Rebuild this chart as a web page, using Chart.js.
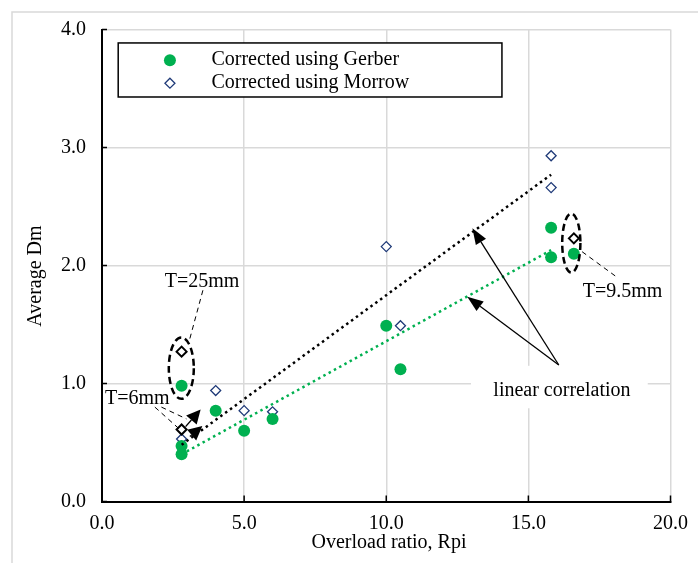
<!DOCTYPE html>
<html>
<head>
<meta charset="utf-8">
<script src="https://cdn.jsdelivr.net/npm/chart.js@4.4.1/dist/chart.umd.min.js"></script>
<style>
  html, body { margin: 0; padding: 0; background: #fff; }
  #myChart { display: block; }
</style>
</head>
<body>
<canvas id="myChart" width="698" height="563"></canvas>
<script>
// values
const gerberX = [2.8, 2.8, 2.8, 4.0, 5.0, 6.0, 10.0, 10.5, 15.8, 15.8, 16.6];
const gerberY = [0.40, 0.47, 0.98, 0.77, 0.60, 0.70, 1.49, 1.12, 2.32, 2.07, 2.10];
const morrowX = [2.8, 2.8, 2.8, 4.0, 5.0, 6.0, 10.0, 10.5, 15.8, 15.8, 16.6];
const morrowY = [0.53, 0.61, 1.27, 0.94, 0.77, 0.76, 2.16, 1.49, 2.93, 2.66, 2.23];
// Morrow points that are circled / pointed at (drawn in black)
const markedMorrow = [1, 2, 10];

// linear trend lines (end points)
const gerberFitX = [2.8, 15.8];
const gerberFitY = [0.40, 2.13];
const morrowFitX = [2.8, 15.8];
const morrowFitY = [0.48, 2.77];

const xTicks = [0, 5, 10, 15, 20];
const yTicks = [0, 1, 2, 3, 4];

const seriesNames = ['Corrected using Gerber', 'Corrected using Morrow'];
const xTitle = 'Overload ratio, Rpi';
const yTitle = 'Average Dm';

const GREEN = '#00b050';
const NAVY = '#1f3a78';
const FONT = '"Liberation Serif", "Times New Roman", serif';

Chart.defaults.font.family = FONT;

function toPoints(xs, ys) {
  return xs.map((x, i) => ({ x: x, y: ys[i] }));
}

function arrow(ctx, x1, y1, x2, y2, len, half) {
  const a = Math.atan2(y2 - y1, x2 - x1);
  const bx = x2 - len * Math.cos(a), by = y2 - len * Math.sin(a);
  ctx.beginPath();
  ctx.moveTo(x1, y1);
  ctx.lineTo(bx, by);
  ctx.stroke();
  ctx.beginPath();
  ctx.moveTo(x2, y2);
  ctx.lineTo(bx + half * Math.sin(a), by - half * Math.cos(a));
  ctx.lineTo(bx - half * Math.sin(a), by + half * Math.cos(a));
  ctx.closePath();
  ctx.fill();
}

// annotations, positioned in data units
const annot = {
  id: 'annot',
  beforeDatasetsDraw(chart) {
    const ctx = chart.ctx, sx = chart.scales.x, sy = chart.scales.y;
    const X = v => sx.getPixelForValue(v), Y = v => sy.getPixelForValue(v);
    ctx.save();
    // white box behind "linear correlation"
    ctx.fillStyle = '#fff';
    ctx.fillRect(X(12.98), Y(1.15), X(19.2) - X(12.98), Y(0.79) - Y(1.15));
    ctx.restore();
  },
  afterDatasetsDraw(chart) {
    const ctx = chart.ctx, sx = chart.scales.x, sy = chart.scales.y;
    const X = v => sx.getPixelForValue(v), Y = v => sy.getPixelForValue(v);
    const area = chart.chartArea;
    ctx.save();

    // outer light frame
    ctx.strokeStyle = '#d9d9d9';
    ctx.lineWidth = 1.5;
    ctx.beginPath();
    ctx.moveTo(12, 563);
    ctx.lineTo(12, 12);
    ctx.lineTo(698, 12);
    ctx.stroke();

    // inside tick marks
    ctx.strokeStyle = '#000';
    ctx.lineWidth = 1.5;
    ctx.beginPath();
    yTicks.forEach(v => { ctx.moveTo(area.left, Y(v)); ctx.lineTo(area.left + 5, Y(v)); });
    xTicks.forEach(v => { ctx.moveTo(X(v), area.bottom); ctx.lineTo(X(v), area.bottom - 6); });
    ctx.stroke();

    // legend
    ctx.fillStyle = '#fff';
    ctx.strokeStyle = '#000';
    ctx.lineWidth = 1.5;
    const lx = X(0.57), ly = Y(3.886), lw = X(14.07) - X(0.57), lh = Y(3.428) - Y(3.886);
    ctx.fillRect(lx, ly, lw, lh);
    ctx.strokeRect(lx, ly, lw, lh);
    ctx.fillStyle = GREEN;
    ctx.beginPath();
    ctx.arc(X(2.39), Y(3.74), 6, 0, Math.PI * 2);
    ctx.fill();
    ctx.strokeStyle = NAVY;
    ctx.lineWidth = 1.3;
    const dx = X(2.39), dy = Y(3.545);
    ctx.beginPath();
    ctx.moveTo(dx, dy - 5); ctx.lineTo(dx + 5, dy); ctx.lineTo(dx, dy + 5); ctx.lineTo(dx - 5, dy); ctx.closePath();
    ctx.stroke();
    ctx.fillStyle = '#000';
    ctx.font = '20px ' + FONT;
    ctx.textBaseline = 'middle';
    ctx.textAlign = 'left';
    ctx.fillText(seriesNames[0], X(3.85), Y(3.74));
    ctx.fillText(seriesNames[1], X(3.85), Y(3.545));

    // axis titles
    ctx.textAlign = 'center';
    ctx.textBaseline = 'alphabetic';
    ctx.fillText(xTitle, 389, 548);
    ctx.save();
    ctx.translate(41, 276);
    ctx.rotate(-Math.PI / 2);
    ctx.fillText(yTitle, 0, 0);
    ctx.restore();

    // labels
    ctx.textAlign = 'left';
    ctx.fillText('T=25mm', X(2.21), Y(1.82));
    ctx.fillText('T=6mm', X(0.105), Y(0.825));
    ctx.fillText('T=9.5mm', X(16.91), Y(1.736));
    ctx.textAlign = 'center';
    ctx.fillText('linear correlation', X(16.18), Y(0.897));

    // dashed ellipses
    ctx.strokeStyle = '#000';
    ctx.lineWidth = 2.5;
    ctx.setLineDash([7, 4]);
    ctx.beginPath();
    ctx.ellipse(X(2.79), Y(1.13), X(0.44) - X(0), Y(0) - Y(0.26), 0, 0, Math.PI * 2);
    ctx.stroke();
    ctx.beginPath();
    ctx.ellipse(X(16.51), Y(2.19), X(0.32) - X(0), Y(0) - Y(0.25), 0, 0, Math.PI * 2);
    ctx.stroke();

    // dashed leaders
    ctx.lineWidth = 1;
    ctx.setLineDash([5, 4]);
    ctx.beginPath();
    ctx.moveTo(X(3.55), Y(1.79)); ctx.lineTo(X(3.09), Y(1.38));
    ctx.moveTo(X(16.89), Y(2.117)); ctx.lineTo(X(18.12), Y(1.90));
    ctx.moveTo(X(1.86), Y(0.80)); ctx.lineTo(X(2.74), Y(0.61));
    ctx.moveTo(X(2.09), Y(0.80)); ctx.lineTo(X(2.97), Y(0.70));
    ctx.stroke();
    ctx.setLineDash([]);

    // arrows
    ctx.fillStyle = '#000';
    ctx.lineWidth = 1.3;
    arrow(ctx, X(16.07), Y(1.157), X(13.03), Y(2.315), 16, 6);
    arrow(ctx, X(16.07), Y(1.157), X(12.85), Y(1.736), 16, 6);
    arrow(ctx, X(2.94), Y(0.634), X(3.47), Y(0.78), 14, 7);
    arrow(ctx, X(3.09), Y(0.55), X(3.53), Y(0.64), 14, 7);

    ctx.restore();
  }
};

const ctx = document.getElementById('myChart').getContext('2d');
const myChart = new Chart(ctx, {
  type: 'scatter',
  data: {
    datasets: [
      {
        label: 'Gerber linear',
        data: toPoints(gerberFitX, gerberFitY),
        showLine: true,
        pointRadius: 0,
        borderColor: GREEN,
        borderWidth: 2.5,
        borderDash: [2.5, 3.5],
        order: 0
      },
      {
        label: 'Morrow linear',
        data: toPoints(morrowFitX, morrowFitY),
        showLine: true,
        pointRadius: 0,
        borderColor: '#000',
        borderWidth: 2.5,
        borderDash: [2.5, 3.5],
        order: 0
      },
      {
        label: seriesNames[0],
        data: toPoints(gerberX, gerberY),
        pointStyle: 'circle',
        pointRadius: 6,
        backgroundColor: GREEN,
        borderColor: GREEN,
        borderWidth: 0,
        order: 1
      },
      {
        label: seriesNames[1],
        data: toPoints(morrowX, morrowY),
        pointStyle: 'rectRot',
        pointRadius: 5,
        backgroundColor: '#fff',
        borderColor: c => markedMorrow.includes(c.dataIndex) ? '#000' : NAVY,
        borderWidth: c => markedMorrow.includes(c.dataIndex) ? 2 : 1.3,
        order: 2
      }
    ]
  },
  options: {
    responsive: false,
    animation: false,
    devicePixelRatio: 1,
    layout: { padding: { top: 29.5, right: 26, left: 0, bottom: 0 } },
    plugins: { legend: { display: false }, tooltip: { enabled: false } },
    scales: {
      x: {
        type: 'linear',
        min: 0,
        max: 20,
        afterBuildTicks: s => { s.ticks = xTicks.map(v => ({ value: v })); },
        afterFit: s => { s.height = 61.5; },
        grid: { color: '#d9d9d9', lineWidth: 1.5, drawTicks: false },
        border: { color: '#000', width: 2 },
        ticks: { padding: 10, color: '#000', font: { size: 20 }, callback: v => v.toFixed(1) }
      },
      y: {
        type: 'linear',
        min: 0,
        max: 4,
        afterBuildTicks: s => { s.ticks = yTicks.map(v => ({ value: v })); },
        afterFit: s => { s.width = 102; },
        grid: { color: '#d9d9d9', lineWidth: 1.5, drawTicks: false },
        border: { color: '#000', width: 2 },
        ticks: { padding: 16, color: '#000', font: { size: 20 }, callback: v => v.toFixed(1) }
      }
    }
  },
  plugins: [annot]
});
</script>
</body>
</html>
